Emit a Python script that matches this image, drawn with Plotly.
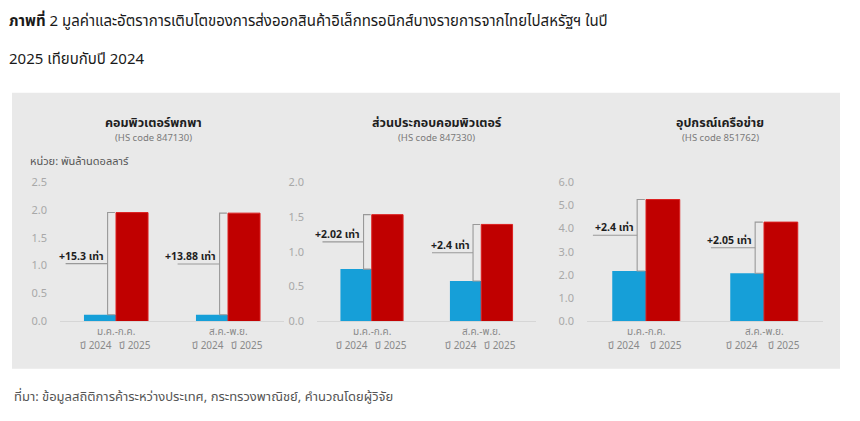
import plotly.graph_objects as go

W, H = 860, 421

# data (พันล้านดอลลาร์)
periods = ["ม.ค.-ก.ค.", "ส.ค.-พ.ย."]
years = ["ปี 2024", "ปี 2025"]
titles = ["คอมพิวเตอร์พกพา", "ส่วนประกอบคอมพิวเตอร์", "อุปกรณ์เครือข่าย"]
hs_codes = ["(HS code 847130)", "(HS code 847330)", "(HS code 851762)"]
val_2024 = [[0.12, 0.12], [0.75, 0.58], [2.17, 2.07]]
val_2025 = [[1.95, 1.94], [1.53, 1.39], [5.24, 4.27]]
growth = [["+15.3 เท่า", "+13.88 เท่า"], ["+2.02 เท่า", "+2.4 เท่า"], ["+2.4 เท่า", "+2.05 เท่า"]]
y_max = [2.5, 2.0, 6.0]
y_dtick = [0.5, 0.5, 1.0]

# panel placement in pixels
x_dom_px = [(60, 284), (317, 536), (587, 823)]
title_x_px = [153, 437, 720]
y_dom_px = (180, 325)

BLUE = "#169fd8"
RED = "#c00000"
FONT = "Noto Sans, Noto Sans Thai, sans-serif"


def px(x):
    return x / W


def py(y):
    return 1 - y / H


fig = go.Figure()
shapes = []
annotations = []

bar_w = 0.286
for k in range(3):
    xa = "x" if k == 0 else f"x{k + 1}"
    ya = "y" if k == 0 else f"y{k + 1}"
    cats = [0, 1]
    fig.add_trace(go.Bar(x=[c - bar_w / 2 for c in cats], y=val_2024[k], width=bar_w,
                         marker=dict(color=BLUE, line=dict(width=0)),
                         xaxis=xa, yaxis=ya, showlegend=False, hoverinfo="y"))
    fig.add_trace(go.Bar(x=[c + bar_w / 2 for c in cats], y=val_2025[k], width=bar_w,
                         marker=dict(color=RED, line=dict(color="#dc1f1f", width=1)),
                         xaxis=xa, yaxis=ya, showlegend=False, hoverinfo="y"))

    sfx = "" if k == 0 else str(k + 1)
    fig.update_layout(**{
        f"xaxis{sfx}": dict(domain=[px(x_dom_px[k][0]), px(x_dom_px[k][1])], range=[-0.5, 1.5],
                            showticklabels=False, showgrid=False, zeroline=False,
                            showline=True, linecolor="#d6d6d6", linewidth=1,
                            anchor=ya, fixedrange=True),
        f"yaxis{sfx}": dict(domain=[py(y_dom_px[1]), py(y_dom_px[0])], range=[0, y_max[k] * 1.002],
                            dtick=y_dtick[k], tickformat=".1f", showgrid=False, zeroline=False,
                            showline=False, ticklabelstandoff=12,
                            tickfont=dict(size=11, color="#a8a8a8", family=FONT),
                            anchor=xa, fixedrange=True),
    })

    xref = xa
    yref = ya
    for i in cats:
        lo, hi = val_2024[k][i], val_2025[k][i]
        mid = (lo + hi) / 2
        xb = i - 0.075
        shapes.append(dict(type="path", xref=xref, yref=yref,
                           path=f"M {i - 0.01} {hi} L {xb} {hi} L {xb} {lo} L {i - 0.01} {lo}",
                           line=dict(color="#999999", width=1.1)))
        shapes.append(dict(type="line", xref=xref, yref=yref, x0=i - 0.45, x1=xb, y0=mid, y1=mid,
                           line=dict(color="#999999", width=1.1)))
        annotations.append(dict(xref=xref, yref=yref, x=i - 0.085, y=mid, xanchor="right", yanchor="bottom",
                                text=f"<b>{growth[k][i]}</b>", showarrow=False, yshift=-1,
                                font=dict(size=10.5, color="#1e1e1e", family=FONT)))
        annotations.append(dict(xref=xref, yref="paper", x=i, y=py(335), xanchor="center", yanchor="middle",
                                text=periods[i], showarrow=False,
                                font=dict(size=10, color="#8a8a8a", family=FONT)))
        for j, off in enumerate([-bar_w / 2 - 0.04, bar_w / 2 + 0.03]):
            annotations.append(dict(xref=xref, yref="paper", x=i + off, y=py(349), xanchor="center",
                                    yanchor="middle", text=years[j], showarrow=False,
                                    font=dict(size=10, color="#8a8a8a", family=FONT)))

    annotations.append(dict(xref="paper", yref="paper", x=px(title_x_px[k]), y=py(119), xanchor="center",
                            yanchor="middle", text=f"<b>{titles[k]}</b>", showarrow=False,
                            font=dict(size=12.5, color="#1e1e1e", family=FONT)))
    annotations.append(dict(xref="paper", yref="paper", x=px(title_x_px[k]), y=py(134), xanchor="center",
                            yanchor="middle", text=hs_codes[k], showarrow=False,
                            font=dict(size=9.5, color="#7a7a7a", family=FONT)))

# gray panel
shapes.insert(0, dict(type="rect", xref="paper", yref="paper", x0=px(12), x1=px(840), y0=py(374), y1=py(88),
                      fillcolor="#e9e9e9", line=dict(width=0), layer="below"))

annotations += [
    dict(xref="paper", yref="paper", x=px(28), y=py(158), xanchor="left", yanchor="middle",
         text="หน่วย: พันล้านดอลลาร์", showarrow=False, font=dict(size=11, color="#555555", family=FONT)),
    dict(xref="paper", yref="paper", x=px(7), y=py(12), xanchor="left", yanchor="middle",
         text="<b>ภาพที่</b> 2 มูลค่าและอัตราการเติบโตของการส่งออกสินค้าอิเล็กทรอนิกส์บางรายการจากไทยไปสหรัฐฯ ในปี",
         showarrow=False, font=dict(size=15, color="#1a1a1a", family=FONT)),
    dict(xref="paper", yref="paper", x=px(7), y=py(52), xanchor="left", yanchor="middle",
         text="2025 เทียบกับปี 2024", showarrow=False, font=dict(size=15, color="#1a1a1a", family=FONT)),
    dict(xref="paper", yref="paper", x=px(12), y=py(402), xanchor="left", yanchor="middle",
         text="ที่มา: ข้อมูลสถิติการค้าระหว่างประเทศ, กระทรวงพาณิชย์, คำนวณโดยผู้วิจัย",
         showarrow=False, font=dict(size=13, color="#555555", family=FONT)),
]

fig.update_layout(
    width=W, height=H,
    margin=dict(l=0, r=0, t=0, b=0),
    paper_bgcolor="white",
    plot_bgcolor="rgba(0,0,0,0)",
    barmode="overlay",
    shapes=shapes,
    annotations=annotations,
    font=dict(family=FONT),
)

fig.write_html("out.html", config={"displayModeBar": False},
               post_script="document.body.style.margin='0';")
